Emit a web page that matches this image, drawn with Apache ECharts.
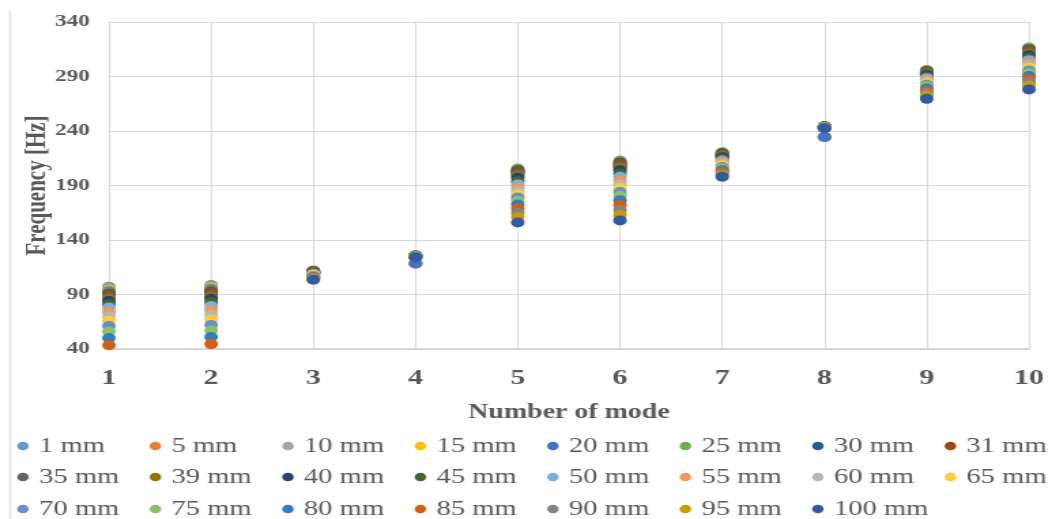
<!DOCTYPE html>
<html>
<head>
<meta charset="utf-8">
<script src="https://cdn.jsdelivr.net/npm/echarts@6/dist/echarts.min.js"></script>
<style>
  html, body { margin: 0; padding: 0; background: #ffffff; overflow: hidden; }
  /* the chart is laid out narrow and widened horizontally */
  #chart { width: 770px; height: 519px; transform: scaleX(1.361); transform-origin: 0 0; }
</style>
</head>
<body>
<div id="chart"></div>
<script>
// Mode numbers on the x axis
const modes = [1, 2, 3, 4, 5, 6, 7, 8, 9, 10];

// Y axis ticks
const yMin = 40, yMax = 340, yStep = 50;

// Natural frequency [Hz] of each mode, one array per thickness
const f1mm   = [97,   98.7, 110.5, 118.5, 203,   209,   218,   234.5, 293,   312];
const f5mm   = [96,   98,   110.5, 118.5, 203,   209,   218,   234.5, 293,   312];
const f10mm  = [95,   97,   110.5, 118.5, 202,   208,   217.5, 234.5, 292.5, 311.5];
const f15mm  = [94,   96,   110.5, 118.5, 202,   208,   217.5, 234.5, 292.5, 311.5];
const f20mm  = [93,   95,   110.5, 118.5, 201,   207,   217,   234.5, 292,   311];
const f25mm  = [92,   94,   112,   126,   205.5, 213,   220.5, 244.5, 296,   316.5];
const f30mm  = [91,   93,   111.5, 125.8, 204,   211,   219.5, 244.3, 295,   315];
const f31mm  = [90,   92,   111.5, 125.7, 203,   210,   219,   244.2, 294.5, 314];
const f35mm  = [88,   90,   111,   125.6, 201,   208,   218,   244.1, 293.5, 312.5];
const f39mm  = [86,   88,   110.5, 125.5, 199,   206,   217,   244,   292.5, 311];
const f40mm  = [84,   86,   110,   125.4, 197,   204,   216,   243.9, 291.5, 309.5];
const f45mm  = [81,   83,   109.5, 125.3, 194,   201,   214.5, 243.8, 290,   307.5];
const f50mm  = [78,   79.5, 109,   125.2, 191,   198,   213,   243.7, 288.5, 305];
const f55mm  = [74,   75.5, 108.5, 125.1, 188,   194.5, 211.5, 243.6, 287,   302.5];
const f60mm  = [70,   71.5, 108,   125,   185,   191,   210,   243.5, 285.5, 300.5];
const f65mm  = [66,   67,   107.5, 124.9, 182,   187.5, 208.5, 243.4, 284,   298];
const f70mm  = [61,   62,   107,   124.8, 179,   184,   207,   243.3, 282.5, 295.5];
const f75mm  = [56,   57,   106.5, 124.7, 176,   180.5, 205.5, 243.1, 281,   293];
const f80mm  = [50,   51,   106,   124.6, 172.5, 176.5, 204,   243,   279,   290.5];
const f85mm  = [43.5, 44.5, 105.5, 124.5, 169,   172,   202.5, 242.8, 277,   288];
const f90mm  = [null, null, 105,   124.4, 165,   167.5, 201,   242.7, 275,   285];
const f95mm  = [null, null, 104.5, 124.3, 161,   163,   199.5, 242.6, 272.5, 281.5];
const f100mm = [null, null, 103.5, 124.2, 156,   158,   198,   242.5, 269.5, 278];

// Series names in legend order
const thicknesses = ['1 mm', '5 mm', '10 mm', '15 mm', '20 mm', '25 mm', '30 mm', '31 mm',
                     '35 mm', '39 mm', '40 mm', '45 mm', '50 mm', '55 mm', '60 mm', '65 mm',
                     '70 mm', '75 mm', '80 mm', '85 mm', '90 mm', '95 mm', '100 mm'];
const values = [f1mm, f5mm, f10mm, f15mm, f20mm, f25mm, f30mm, f31mm,
                f35mm, f39mm, f40mm, f45mm, f50mm, f55mm, f60mm, f65mm,
                f70mm, f75mm, f80mm, f85mm, f90mm, f95mm, f100mm];

// Office-style marker colours
const palette = ['#5B9BD5', '#ED7D31', '#A5A5A5', '#FFC000', '#4472C4', '#70AD47', '#255E91', '#9E480E',
                 '#636363', '#997300', '#264478', '#43682B', '#7CAFDD', '#F1975A', '#B7B7B7', '#FFCD33',
                 '#698ED0', '#8CC168', '#327DC2', '#D26012', '#848484', '#CC9A00', '#335AA1'];

const serif = "'Liberation Serif', 'Times New Roman', serif";
const textGrey = '#595959';
const gridGrey = '#d9d9d9';

const series = thicknesses.map((name, i) => ({
  name: name,
  type: 'scatter',
  symbol: 'circle',
  symbolSize: 10,
  itemStyle: { color: palette[i], opacity: 1 },
  data: modes.map((m, k) => values[i][k] == null ? null : [m, values[i][k]]).filter(d => d !== null),
  emphasis: { disabled: true },
  z: 2
}));

// three legend rows, eight entries each
const legendRows = [thicknesses.slice(0, 8), thicknesses.slice(8, 16), thicknesses.slice(16)];
const legendTops = [434, 465, 497];
const legends = legendRows.map((row, r) => ({
  data: row,
  orient: 'horizontal',
  left: 12.6,
  top: legendTops[r],
  width: 800,
  padding: 0,
  icon: 'circle',
  itemWidth: 13.6,
  itemHeight: 8.5,
  itemGap: 11.3,
  selectedMode: false,
  textStyle: { fontFamily: serif, fontSize: 21, color: textGrey, width: 70, lineHeight: 24 }
}));

const chart = echarts.init(document.getElementById('chart'), null, { renderer: 'canvas' });
chart.setOption({
  animation: false,
  backgroundColor: '#ffffff',
  color: palette,
  grid: { left: 80, right: 12.5, top: 22, bottom: 170, containLabel: false },
  xAxis: {
    type: 'value',
    min: 1, max: 10, interval: 1,
    name: 'Number of mode',
    nameLocation: 'middle',
    nameGap: 53,
    nameMoveOverlap: false,
    nameTextStyle: { fontFamily: serif, fontSize: 20.5, fontWeight: 'bold', color: textGrey },
    axisLine: { show: true, lineStyle: { color: '#cfcfcf', width: 1.5 } },
    axisTick: { show: false },
    axisLabel: { fontFamily: serif, fontSize: 22, fontWeight: 'bold', color: textGrey, margin: 18 },
    splitLine: { show: true, lineStyle: { color: gridGrey, width: 1 } }
  },
  yAxis: {
    type: 'value',
    min: yMin, max: yMax, interval: yStep,
    name: 'Frequency [Hz]',
    nameLocation: 'middle',
    nameGap: 42,
    nameMoveOverlap: false,
    nameTextStyle: { fontFamily: serif, fontSize: 21, fontWeight: 'bold', color: textGrey },
    axisLine: { show: false },
    axisTick: { show: false },
    axisLabel: { fontFamily: serif, fontSize: 17, fontWeight: 'bold', color: textGrey, margin: 14 },
    splitLine: { show: true, lineStyle: { color: gridGrey, width: 1 } }
  },
  legend: legends,
  graphic: [{
    type: 'line',
    shape: { x1: 7.3, y1: 10, x2: 7.3, y2: 519 },
    style: { stroke: gridGrey, lineWidth: 1 },
    silent: true
  }],
  series: series
});
</script>
</body>
</html>
